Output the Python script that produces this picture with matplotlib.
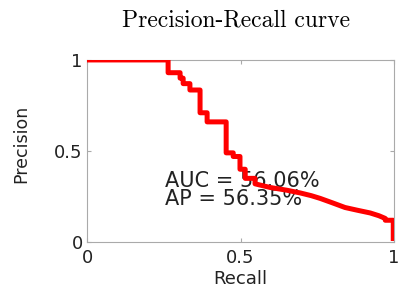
import numpy as np
import matplotlib
matplotlib.use("Agg")
import matplotlib.pyplot as plt

# curve vertices
recall = [0.0, 0.264, 0.264, 0.303, 0.303, 0.313, 0.313, 0.335, 0.335, 0.368, 0.368,
          0.391, 0.391, 0.453, 0.453, 0.476, 0.476, 0.498, 0.498, 0.515, 0.515,
          0.547, 0.547, 0.596, 0.65, 0.694, 0.73, 0.759, 0.80, 0.840, 0.88,
          0.922, 0.95, 0.971, 0.971, 0.997, 0.997]
precision = [1.0, 1.0, 0.93, 0.93, 0.90, 0.90, 0.87, 0.87, 0.835, 0.835, 0.71,
             0.71, 0.66, 0.66, 0.49, 0.49, 0.47, 0.47, 0.40, 0.40, 0.35,
             0.35, 0.32, 0.30, 0.285, 0.27, 0.255, 0.24, 0.215, 0.19, 0.175,
             0.16, 0.145, 0.13, 0.12, 0.12, 0.02]
auc_text = "AUC = 56.06%"
ap_text = "AP = 56.35%"

plt.rcParams['font.family'] = ['DejaVu Sans']

fig = plt.figure(figsize=(4.01, 2.91), dpi=100)
ax = fig.add_axes([0.217, 0.168, 0.766, 0.626])

ax.plot(recall, precision, color='red', linewidth=3.6, zorder=3)

ax.text(0.254, 0.335, auc_text, fontsize=15, va='center', color='#222222', zorder=1)
ax.text(0.254, 0.235, ap_text, fontsize=15, va='center', color='#222222', zorder=1)

ax.set_xlim(0, 1)
ax.set_ylim(0, 1)
ax.set_xticks([0, 0.5, 1])
ax.set_xticklabels(['0', '0.5', '1'])
ax.set_yticks([0, 0.5, 1])
ax.set_yticklabels(['0', '0.5', '1'])
ax.tick_params(axis='both', direction='in', length=3, color='#aaaaaa', labelsize=13,
               labelcolor='#222222', top=True, right=True)
ax.tick_params(axis='x', pad=5)
ax.tick_params(axis='y', pad=3)
for s in ax.spines.values():
    s.set_color('#aaaaaa')
    s.set_linewidth(0.8)

ax.set_xlabel("Recall", fontsize=13, color='#222222', labelpad=2)
ax.set_ylabel("Precision", fontsize=12.5, color='#222222')
ax.yaxis.set_label_coords(-0.185, 0.54)

fig.text(0.588, 0.93, "Precision-Recall curve", family='cmr10', fontsize=17,
         ha='center', va='center')

fig.savefig("out.png", dpi=100)
